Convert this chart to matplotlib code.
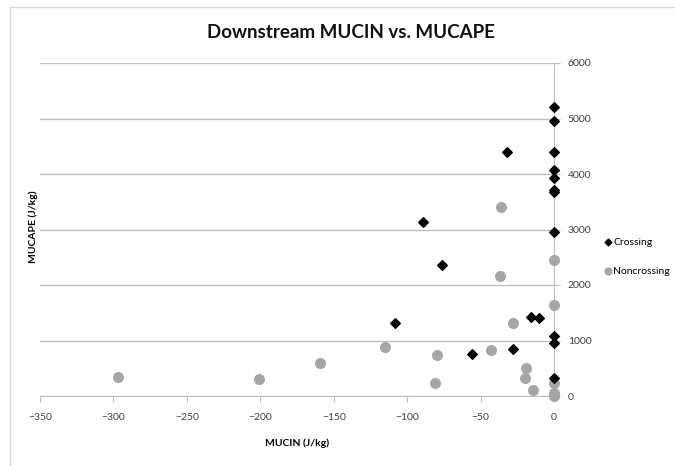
import matplotlib.pyplot as plt
from matplotlib.patches import Rectangle

plt.rcParams['font.family'] = ['Lato', 'DejaVu Sans']

# Crossing storms (MUCIN, MUCAPE)
cross_cin = [0, 0, 0, 0, 0, 0, 0, 0, 0, 0, 0,
             -32, -89, -76, -108, -16, -10, -56, -28]
cross_cape = [5200, 4950, 4390, 4070, 3920, 3720, 3670, 2950, 1080, 950, 320,
              4390, 3130, 2360, 1320, 1420, 1400, 760, 840]

# Noncrossing storms
non_cin = [-36, -37, 0, 0, -28, -115, -80, -43, -159, -81, -19, -20, -14,
           0, 0, 0, 0, -297, -201]
non_cape = [3400, 2160, 2450, 1640, 1310, 890, 730, 820, 600, 240, 500, 320, 100,
            240, 50, 20, 0, 350, 310]

fig = plt.figure(figsize=(6.75, 4.66), dpi=100)
ax = fig.add_axes([40 / 675, 70 / 466, 514 / 675, 333 / 466])

grey = '#A6A6A6'
ax.scatter(cross_cin, cross_cape, marker='D', s=24, color='black', label='Crossing',
           zorder=4, clip_on=False)
ax.scatter(non_cin, non_cape, marker='o', s=48, color=grey, label='Noncrossing',
           zorder=3, clip_on=False)

ax.set_xlim(-350, 0)
ax.set_ylim(0, 6000)
ax.set_xticks(range(-350, 1, 50))
ax.set_yticks(range(0, 6001, 1000))

ax.yaxis.tick_right()
ax.grid(axis='y', color='#BFBFBF', linewidth=1)
ax.set_axisbelow(True)
for s in ['left', 'top']:
    ax.spines[s].set_visible(False)
for s in ['right', 'bottom']:
    ax.spines[s].set_color('#BFBFBF')
ax.tick_params(axis='both', colors='#BFBFBF', labelcolor='#404040', labelsize=7.5,
               length=4)
ax.tick_params(axis='x', pad=8)
ax.tick_params(axis='y', pad=6)

fig.text(351 / 675, 1 - 33 / 466, 'Downstream MUCIN vs. MUCAPE', fontsize=13.5,
         fontweight='bold', ha='center', va='center', color='#111111')
ax.set_xlabel('MUCIN (J/kg)', fontsize=7.5, fontweight='bold', labelpad=12)
fig.text(33 / 675, 1 - 227 / 466, 'MUCAPE (J/kg)', rotation=90, fontsize=7.5,
         fontweight='bold', ha='center', va='center')

fig.legend(loc='center left', bbox_to_anchor=(603 / 675, 1 - 257 / 466), frameon=False,
           fontsize=7.5, handletextpad=0.0, markerscale=0.7, labelspacing=1.9,
           handlelength=1.0, borderaxespad=0, borderpad=0)

fig.patches.append(Rectangle((10 / 675, -0.1), 1.2, 1 - 7 / 466 + 0.1,
                             transform=fig.transFigure, fill=False,
                             edgecolor='#D9D9D9', linewidth=1))

fig.savefig('out.png', dpi=100)
